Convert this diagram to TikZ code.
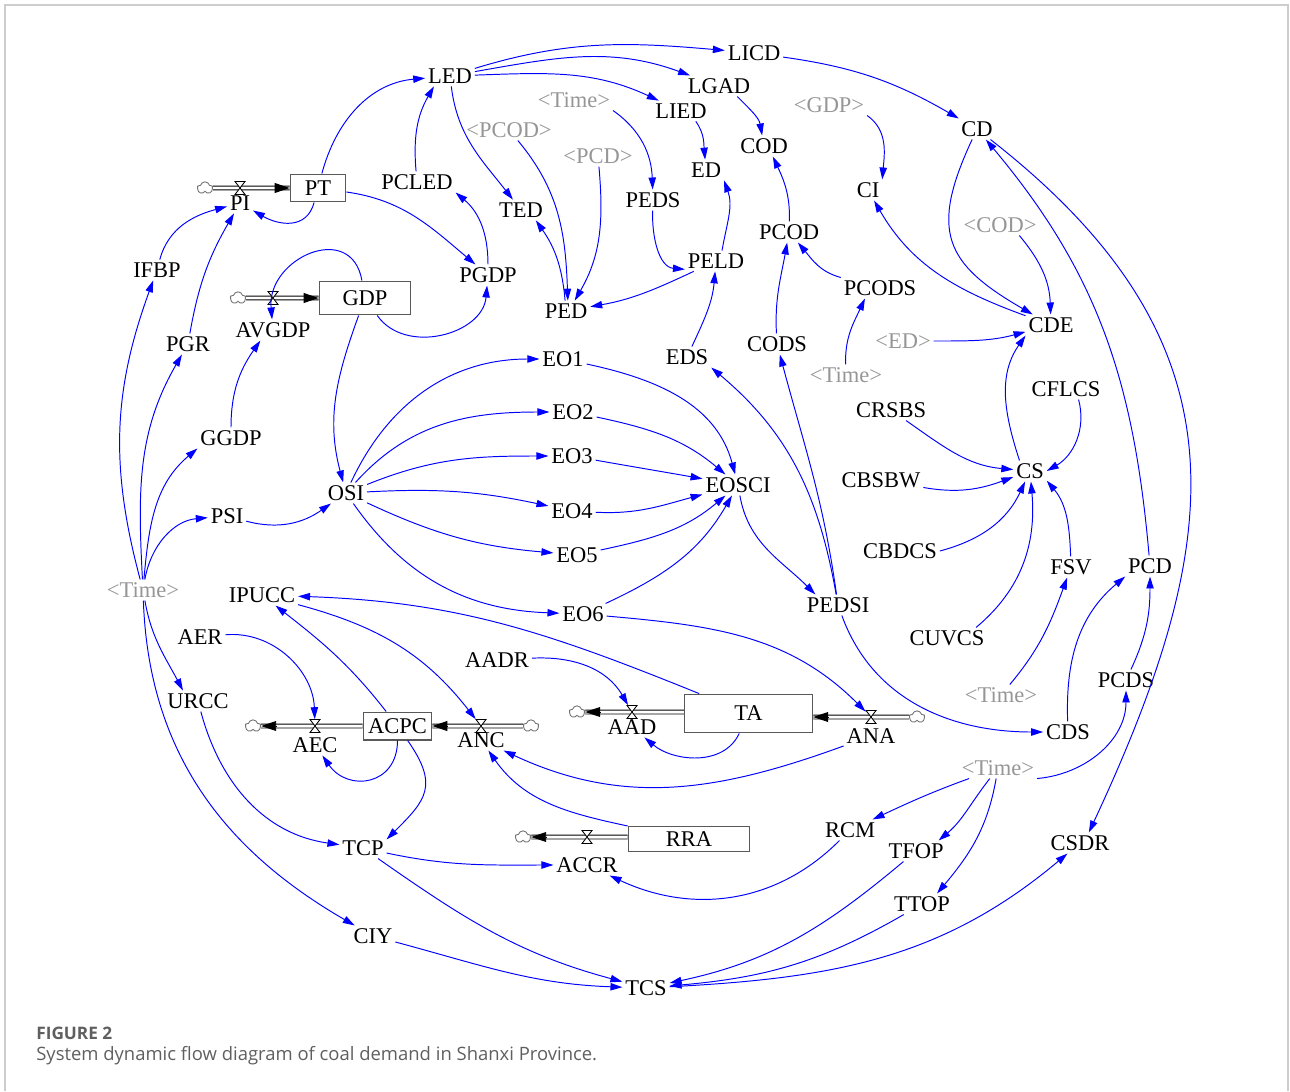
\documentclass[tikz,border=0pt]{standalone}
\usepackage{fontspec}
\setmainfont{Liberation Serif}
\newfontfamily\capfont{Open Sans}
\usetikzlibrary{arrows.meta,shapes.symbols}
\definecolor{shadowgray}{RGB}{150,150,150}
\definecolor{linkblue}{RGB}{0,0,255}
\definecolor{framegray}{RGB}{205,205,205}
\definecolor{capgray}{RGB}{95,95,95}
\begin{document}
\begin{tikzpicture}[x=0.02cm,y=0.02cm,
  varnode/.style={inner sep=1.5pt, font=\fontsize{12.8pt}{14pt}\selectfont},
  shadowvar/.style={varnode, text=shadowgray},
  stock/.style={draw=black!65, line width=0.6pt, inner sep=0pt, fill=white, font=\fontsize{12.8pt}{14pt}\selectfont},
  lnk/.style={draw=linkblue, line width=0.55pt, -{Triangle[length=6.8pt,width=4.2pt]}},
  pipe/.style={draw=black, line width=0.5pt, double=white, double distance=1.7pt},
  pipehead/.style={draw=black, line width=0.5pt, -{Triangle[length=8.5pt,width=5.6pt]}},
  cloudnode/.style={cloud, cloud puffs=5, draw=black!55, line width=0.5pt, minimum width=8.8pt, minimum height=7pt, inner sep=0pt, aspect=1.3},
  valvenode/.style={inner sep=0pt, minimum width=5.8pt, minimum height=7.4pt},
  valve/.pic={\draw[black, line width=0.5pt, fill=white] (-5,6.5) -- (5,6.5) -- (-5,-6.5) -- (5,-6.5) -- cycle;}
]
\useasboundingbox (0,0) rectangle (1290,-1091);
\draw[framegray, line width=0.7pt] (5,-1091) -- (5,-5) -- (1288,-5) -- (1288,-1091);

% stocks
\node[stock, minimum width=31.7pt, minimum height=15.9pt] (PT) at (318,-188) {PT};
\node[stock, minimum width=52.2pt, minimum height=19.3pt] (GDP) at (365,-298) {GDP};
\node[stock, minimum width=39.1pt, minimum height=15.9pt] (ACPC) at (397.5,-726) {ACPC};
\node[stock, minimum width=73.1pt, minimum height=22.1pt] (TA) at (748.5,-713.5) {TA};
\node[stock, minimum width=69.2pt, minimum height=14.7pt] (RRA) at (689,-839) {RRA};

% clouds
\node[cloudnode] (cPI) at (205,-188) {};
\node[cloudnode] (cGDP) at (238,-298) {};
\node[cloudnode] (cAEC) at (253,-726) {};
\node[cloudnode] (cANC) at (531,-726) {};
\node[cloudnode] (cAAD) at (577,-712) {};
\node[cloudnode] (cANA) at (917,-717) {};
\node[cloudnode] (cRRA) at (523,-837) {};

% pipes
\draw[pipe] (cPI.east) -- (PT.west);
\draw[pipehead] ([xshift=-8.5pt]PT.west) -- (PT.west);
\draw[pipe] (cGDP.east) -- (GDP.west);
\draw[pipehead] ([xshift=-8.5pt]GDP.west) -- (GDP.west);
\draw[pipe] (ACPC.west) -- (cAEC.east);
\draw[pipehead] ([xshift=8.5pt]cAEC.east) -- (cAEC.east);
\draw[pipe] (cANC.west) -- (ACPC.east);
\draw[pipehead] ([xshift=8.5pt]ACPC.east) -- (ACPC.east);
\coordinate (taL) at (TA.west |- cAAD);
\draw[pipe] (taL) -- (cAAD.east);
\draw[pipehead] ([xshift=8.5pt]cAAD.east) -- (cAAD.east);
\coordinate (taR) at (TA.east |- cANA);
\draw[pipe] (cANA.west) -- (taR);
\draw[pipehead] ([xshift=8.5pt]taR) -- (taR);
\coordinate (rraL) at (RRA.west |- cRRA);
\draw[pipe] (rraL) -- (cRRA.east);
\draw[pipehead] ([xshift=8.5pt]cRRA.east) -- (cRRA.east);

% valves
\node[valvenode] (vPI) at (240,-188) {}; \pic at (vPI) {valve};
\node[valvenode] (vGDP) at (273,-298) {}; \pic at (vGDP) {valve};
\node[valvenode] (vAEC) at (315,-726) {}; \pic at (vAEC) {valve};
\node[valvenode] (vANC) at (481,-726) {}; \pic at (vANC) {valve};
\node[valvenode] (vAAD) at (632,-712) {}; \pic at (vAAD) {valve};
\node[valvenode] (vANA) at (871,-717) {}; \pic at (vANA) {valve};
\node[valvenode] (vRRA) at (587,-837) {}; \pic at (vRRA) {valve};

% flow labels
\node[varnode] (PI) at (240,-203) {PI};
\node[varnode] (AVGDP) at (273,-330) {AVGDP};
\node[varnode] (AEC) at (315,-745) {AEC};
\node[varnode] (ANC) at (481,-740) {ANC};
\node[varnode] (AAD) at (632,-727) {AAD};
\node[varnode] (ANA) at (871,-736) {ANA};
\node[varnode] (ACCR) at (587,-865) {ACCR};

% variables
\node[varnode] (LED) at (450,-76) {LED};
\node[varnode] (LICD) at (754,-53) {LICD};
\node[varnode] (LGAD) at (719,-86) {LGAD};
\node[varnode] (LIED) at (681,-111) {LIED};
\node[shadowvar] (tTime1) at (574,-100) {\textless Time\textgreater};
\node[shadowvar] (sPCOD) at (509,-130) {\textless PCOD\textgreater};
\node[shadowvar] (sPCD) at (598,-156) {\textless PCD\textgreater};
\node[shadowvar] (sGDP) at (829,-105) {\textless GDP\textgreater};
\node[varnode] (CD) at (977,-129) {CD};
\node[varnode] (COD) at (764,-146) {COD};
\node[varnode] (ED) at (706,-170) {ED};
\node[varnode] (CI) at (868,-190) {CI};
\node[varnode] (PCLED) at (417,-182) {PCLED};
\node[varnode] (TED) at (521,-210) {TED};
\node[varnode] (PEDS) at (653,-200) {PEDS};
\node[varnode] (PCOD) at (789,-232) {PCOD};
\node[shadowvar] (sCOD) at (1000,-225) {\textless COD\textgreater};
\node[varnode] (PGDP) at (488,-275) {PGDP};
\node[varnode] (PELD) at (716,-261) {PELD};
\node[varnode] (PCODS) at (880,-288) {PCODS};
\node[varnode] (PED) at (566,-311) {PED};
\node[varnode] (CDE) at (1051,-325) {CDE};
\node[shadowvar] (sED) at (903,-341) {\textless ED\textgreater};
\node[varnode] (IFBP) at (157,-270) {IFBP};
\node[varnode] (PGR) at (188,-344) {PGR};
\node[varnode] (EDS) at (687,-357) {EDS};
\node[varnode] (CODS) at (777,-344) {CODS};
\node[shadowvar] (tTime2) at (846,-375) {\textless Time\textgreater};
\node[varnode] (EO1) at (563,-359) {EO1};
\node[varnode] (CFLCS) at (1066,-389) {CFLCS};
\node[varnode] (CRSBS) at (891,-410) {CRSBS};
\node[varnode] (EO2) at (573,-412) {EO2};
\node[varnode] (GGDP) at (231,-438) {GGDP};
\node[varnode] (EO3) at (572,-456) {EO3};
\node[varnode] (CS) at (1030,-471) {CS};
\node[varnode] (CBSBW) at (881,-480) {CBSBW};
\node[varnode] (OSI) at (346,-493) {OSI};
\node[varnode] (EOSCI) at (738,-485) {EOSCI};
\node[varnode] (PSI) at (227,-516) {PSI};
\node[varnode] (EO4) at (572,-511) {EO4};
\node[varnode] (EO5) at (577,-555) {EO5};
\node[varnode] (CBDCS) at (900,-551) {CBDCS};
\node[varnode] (FSV) at (1071,-567) {FSV};
\node[varnode] (PCD) at (1150,-566) {PCD};
\node[shadowvar] (tTime3) at (143,-590) {\textless Time\textgreater};
\node[varnode] (IPUCC) at (262,-595) {IPUCC};
\node[varnode] (EO6) at (583,-614) {EO6};
\node[varnode] (PEDSI) at (838,-605) {PEDSI};
\node[varnode] (AER) at (200,-637) {AER};
\node[varnode] (CUVCS) at (947,-638) {CUVCS};
\node[varnode] (AADR) at (497,-660) {AADR};
\node[varnode] (URCC) at (198,-701) {URCC};
\node[varnode] (PCDS) at (1126,-680) {PCDS};
\node[shadowvar] (tTime4) at (1001,-695) {\textless Time\textgreater};
\node[varnode] (CDS) at (1068,-732) {CDS};
\node[shadowvar] (tTime5) at (998,-768) {\textless Time\textgreater};
\node[varnode] (RCM) at (850,-830) {RCM};
\node[varnode] (TFOP) at (916,-851) {TFOP};
\node[varnode] (CSDR) at (1080,-843) {CSDR};
\node[varnode] (TCP) at (363,-848) {TCP};
\node[varnode] (TTOP) at (922,-904) {TTOP};
\node[varnode] (CIY) at (373,-936) {CIY};
\node[varnode] (TCS) at (646,-988) {TCS};

% links
\draw[lnk] (PT) to[out=75,in=185] (LED);
\draw[lnk] (PCLED) to[out=95,in=240] ([xshift=5pt]LED.south west);
\draw[lnk] (PGDP) to[out=90,in=-40] (PCLED.south east);
\draw[lnk] (PT) to[out=-8,in=140] (PGDP);
\draw[lnk] (GDP) to[out=-55,in=-95,looseness=1.1] (PGDP);
\draw[lnk] (GDP) to[out=100,in=95,looseness=1.6] (AVGDP);
\draw[lnk] (GGDP) to[out=90,in=235] (AVGDP.220);
\draw[lnk] (PT) to[out=-105,in=-30,looseness=1.2] (PI);
\draw[lnk] (IFBP) to[out=75,in=195] (PI);
\draw[lnk] (PGR) to[out=80,in=240] (PI);
\draw[lnk] (tTime3) to[out=105,in=-110] (IFBP);
\draw[lnk] (tTime3) to[out=93,in=240] (PGR);
\draw[lnk] (tTime3) to[out=85,in=220] (GGDP.south west);
\draw[lnk] (tTime3) to[out=80,in=185] (PSI);
\draw[lnk] (PSI) to[out=-15,in=215] (OSI);
\draw[lnk] (GDP) to[out=-110,in=105] (OSI);
\draw[lnk] (OSI) to[out=65,in=180] (EO1);
\draw[lnk] (OSI) to[out=48,in=180] (EO2);
\draw[lnk] (OSI) to[out=22,in=180] (EO3);
\draw[lnk] (OSI) to[out=3,in=168] (EO4);
\draw[lnk] (OSI) to[out=-25,in=175] (EO5);
\draw[lnk] (OSI) to[out=-55,in=178] (EO6);
\draw[lnk] (EO1) to[out=-12,in=105] (EOSCI);
\draw[lnk] (EO2) to[out=-12,in=140] (EOSCI);
\draw[lnk] (EO3) to[out=-10,in=170] (EOSCI);
\draw[lnk] (EO4) to[out=-3,in=195] (EOSCI);
\draw[lnk] (EO5) to[out=12,in=220] (EOSCI);
\draw[lnk] (EO6) to[out=25,in=240] (EOSCI);
\draw[lnk] (EOSCI) to[out=-80,in=135] (PEDSI.155);
\draw[lnk] (PEDSI) to[out=100,in=-40] (EDS.south east);
\draw[lnk] (PEDSI) to[out=98,in=-75] (CODS);
\draw[lnk] (PEDSI) to[out=-70,in=180] (CDS);
\draw[lnk] (EDS) to[out=65,in=-95] (PELD);
\draw[lnk] (PELD.60) to[out=80,in=-70] (ED.south east);
\draw[lnk] (PEDS) to[out=-92,in=175] (PELD.195);
\draw[lnk] (PELD) to[out=205,in=10] (PED);
\draw[lnk] (PED) to[out=95,in=-55] (TED.-35);
\draw[lnk] (sPCOD) to[out=-50,in=92] (PED.80);
\draw[lnk] (sPCD) to[out=-85,in=60] (PED.50);
\draw[lnk] (tTime1.south east) to[out=-35,in=92] (PEDS);
\draw[lnk] (LED) to[out=-83,in=128] (TED);
\draw[lnk] (LED) to[out=17,in=175] (LICD);
\draw[lnk] (LED) to[out=10,in=160] (LGAD);
\draw[lnk] (LED) to[out=2,in=155] (LIED);
\draw[lnk] (LICD) to[out=-8,in=150] (CD);
\draw[lnk] (LIED.-35) to[out=-55,in=95] (ED);
\draw[lnk] (LGAD.-30) to[out=-45,in=100] (COD);
\draw[lnk] (PCOD) to[out=88,in=-65] (COD.-50);
\draw[lnk] (CODS) to[out=93,in=-100] (PCOD);
\draw[lnk] (PCODS) to[out=165,in=-50] (PCOD);
\draw[lnk] (tTime2) to[out=92,in=-115] (PCODS.-145);
\draw[lnk] (sGDP.south east) to[out=-35,in=85] (CI.north east);
\draw[lnk] (CDE) to[out=160,in=-60] (CI);
\draw[lnk] (CD) to[out=-115,in=150,looseness=1.4] (CDE);
\draw[lnk] ([xshift=11pt]sCOD.south) to[out=-50,in=92] (CDE);
\draw[lnk] (sED) to[out=0,in=195] (CDE);
\draw[lnk] (CS.135) to[out=108,in=-125] (CDE.south west);
\draw[lnk] (CFLCS.-40) to[out=-75,in=30] (CS.east);
\draw[lnk] (CRSBS) to[out=-35,in=175] (CS);
\draw[lnk] (CBSBW) to[out=-10,in=200] (CS);
\draw[lnk] (CBDCS.east) to[out=15,in=-115] (CS);
\draw[lnk] (CUVCS.20) to[out=40,in=-85] (CS);
\draw[lnk] (FSV) to[out=92,in=-50] (CS.-30);
\draw[lnk] (tTime4) to[out=50,in=-110] (FSV);
\draw[lnk] (PCD) to[out=95,in=-50] (CD);
\draw[lnk] (CD) to[out=-38,in=65,looseness=1.2] (CSDR.50);
\draw[lnk] (CDS) to[out=92,in=-140] (PCD.south west);
\draw[lnk] (PCDS) to[out=65,in=-90] (PCD);
\draw[lnk] (tTime5.south east) to[out=5,in=-90] (PCDS);
\draw[lnk] (tTime5) to[out=200,in=25] (RCM);
\draw[lnk] (tTime5) to[out=-128,in=40] (TFOP.25);
\draw[lnk] (tTime5) to[out=-100,in=50] (TTOP.35);
\draw[lnk] (TCS) to[out=3,in=-140] (CSDR);
\draw[lnk] (TFOP) to[out=-140,in=12] (TCS);
\draw[lnk] (TTOP) to[out=-150,in=5] (TCS);
\draw[lnk] (RCM) to[out=-135,in=-25] (ACCR);
\draw[lnk] (TCP) to[out=-12,in=180] (ACCR);
\draw[lnk] (TCP) to[out=-35,in=165] (TCS);
\draw[lnk] (CIY) to[out=-15,in=178] (TCS);
\draw[lnk] (tTime3) to[out=-88,in=150] (CIY);
\draw[lnk] (tTime3) to[out=-80,in=118] (URCC.145);
\draw[lnk] (URCC) to[out=-75,in=172] (TCP);
\draw[lnk] (ACPC) to[out=-55,in=45,looseness=1.4] (TCP.20);
\draw[lnk] (ACPC) to[out=-90,in=-55,looseness=1.5] (AEC);
\draw[lnk] (AER) to[out=5,in=92] (vAEC);
\draw[lnk] (ACPC) to[out=128,in=-38] (IPUCC);
\draw[lnk] (IPUCC) to[out=-15,in=128] (vANC);
\draw[lnk] (TA) to[out=158,in=-2] (IPUCC);
\draw[lnk] (EO6) to[out=-5,in=135] (vANA);
\draw[lnk] (AADR) to[out=3,in=120] (vAAD);
\draw[lnk] (TA) to[out=-115,in=-40] (AAD);
\draw[lnk] (ANA) to[out=-160,in=-25] (ANC);
\draw[lnk] (RRA) to[out=168,in=-55] (ANC);

% caption
\node[anchor=west, inner sep=0pt, text=capgray, font=\capfont\bfseries\fontsize{9.8pt}{12pt}\selectfont] (figlabel) at (36,-1033) {FIGURE 2};
\node[anchor=west, inner sep=0pt, text=capgray, font=\capfont\fontsize{10.5pt}{12pt}\selectfont] (figcap) at (36,-1056) {System dynamic flow diagram of coal demand in Shanxi Province.};
\end{tikzpicture}
\end{document}
